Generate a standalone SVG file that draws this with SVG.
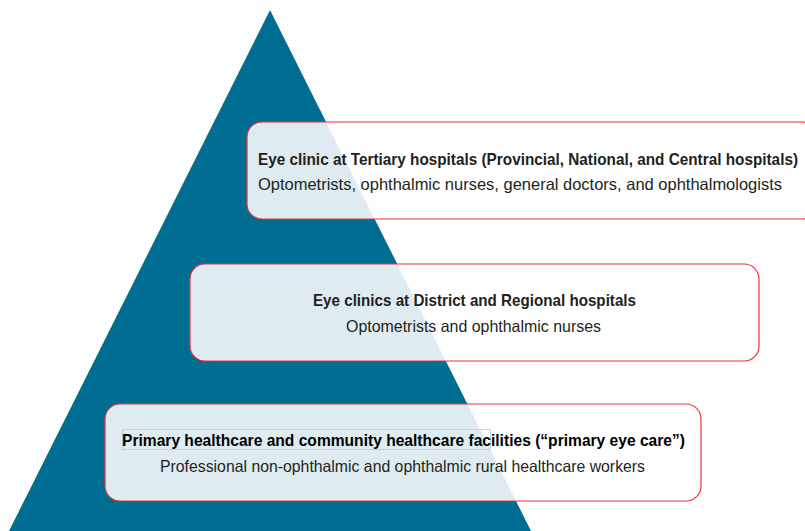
<svg xmlns="http://www.w3.org/2000/svg" width="805" height="531" viewBox="0 0 805 531">
  <style>
    .box { fill: #ffffff; fill-opacity: 0.87; stroke: #e8323c; stroke-width: 1.2; }
    .t { font-family: "Liberation Sans", Arial, sans-serif; font-size: 16.5px; fill: #231f20; text-anchor: middle; }
    .b { font-weight: bold; }
  </style>
  <rect width="805" height="531" fill="#ffffff"/>
  <polygon id="pyramid" points="270,10 531,531 9,531" fill="#006e92"/>
  <g id="tertiary">
    <rect class="box" x="247" y="122" width="570" height="97" rx="15"/>
    <text class="t b" x="528" y="164.5" textLength="540" lengthAdjust="spacingAndGlyphs">Eye clinic at Tertiary hospitals (Provincial, National, and Central hospitals)</text>
    <text class="t" x="520" y="190" textLength="524" lengthAdjust="spacingAndGlyphs">Optometrists, ophthalmic nurses, general doctors, and ophthalmologists</text>
  </g>
  <g id="district">
    <rect class="box" x="190" y="264" width="569" height="97" rx="15"/>
    <text class="t b" x="474.5" y="305.5" textLength="323" lengthAdjust="spacingAndGlyphs">Eye clinics at District and Regional hospitals</text>
    <text class="t" x="473.5" y="331.5" textLength="255" lengthAdjust="spacingAndGlyphs">Optometrists and ophthalmic nurses</text>
  </g>
  <g id="primary">
    <rect class="box" x="105" y="404" width="596" height="97" rx="15"/>
    <rect x="122.5" y="429.5" width="368" height="20" fill="none" stroke="#b9d6e2" stroke-width="1"/>
    <text class="t b" x="403.5" y="446" textLength="563" lengthAdjust="spacingAndGlyphs" style="fill:#000000">Primary healthcare and community healthcare facilities (“primary eye care”)</text>
    <text class="t" x="402.5" y="471.5" textLength="485" lengthAdjust="spacingAndGlyphs">Professional non-ophthalmic and ophthalmic rural healthcare workers</text>
  </g>
</svg>
